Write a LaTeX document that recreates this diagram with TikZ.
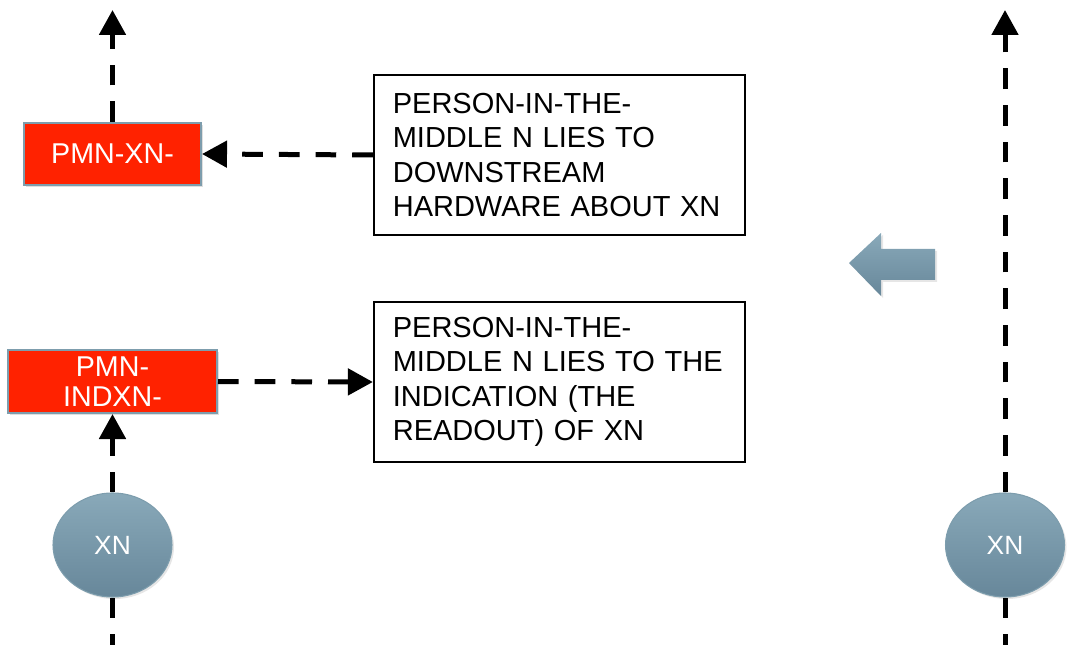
\documentclass[tikz,border=0pt]{standalone}
\usepackage{fontspec}
\setmainfont{Liberation Sans}
\usetikzlibrary{arrows.meta,shadows,shapes.geometric}

\definecolor{pmnred}{HTML}{FF2200}
\definecolor{pmnedge}{HTML}{7D9DAD}
\definecolor{nodetop}{HTML}{89A9B9}
\definecolor{nodebot}{HTML}{67879A}

\tikzset{
  px/.style={x=0.75pt,y=-0.75pt},
  flow/.style={line width=3.75pt, dash pattern=on 15.5pt off 12pt,
    -{Triangle[length=18.75pt,width=19.5pt]}},
  plain/.style={line width=3.75pt, dash pattern=on 15.5pt off 12pt},
  pmnbox/.style={rectangle, fill=pmnred, draw=pmnedge, line width=1.5pt,
    text=white, font=\fontsize{21.5pt}{22.5pt}\selectfont, align=center,
    inner sep=0pt, drop shadow={opacity=0.25,shadow xshift=1.5pt,shadow yshift=-1.5pt}},
  notebox/.style={rectangle, draw=black, line width=1.4pt, fill=white,
    minimum width=278.25pt, minimum height=120pt, text width=250pt,
    inner xsep=14.25pt, align=left,
    font=\fontsize{21.75pt}{25.9pt}\selectfont},
  xnode/.style={ellipse, draw=pmnedge, line width=0.8pt,
    top color=nodetop, bottom color=nodebot,
    minimum width=89.25pt, minimum height=78pt, inner sep=0pt,
    text=white, font=\fontsize{19.8pt}{22pt}\selectfont,
    drop shadow={opacity=0.2,shadow xshift=1.5pt,shadow yshift=-1.5pt}},
}

\begin{document}
\begin{tikzpicture}[px]
  \useasboundingbox (0,0) rectangle (1067,645);

  % left column
  \node[pmnbox, minimum width=132.75pt, minimum height=46.5pt] (pmnx) at (112.5,154) {PMN-XN-};
  \node[pmnbox, minimum width=156.75pt, minimum height=47.25pt] (pmnind) at (112.5,381.5) {PMN-\\INDXN-};
  \node[xnode] (xnl) at (112.5,545) {XN};
  \coordinate (topl) at (112.5,10);
  \coordinate (botl) at (112.5,645);

  % notes
  \node[notebox] (noteA) at (559.5,155)
    {PERSON-IN-THE-\\MIDDLE N LIES TO\\DOWNSTREAM\\HARDWARE ABOUT XN};
  \node[notebox] (noteB) at (559.5,382)
    {PERSON-IN-THE-\\MIDDLE N LIES TO THE\\INDICATION (THE\\READOUT) OF XN};

  % right column
  \node[xnode] (xnr) at (1005,545) {XN};
  \coordinate (topr) at (1005,10);
  \coordinate (botr) at (1005,645);

  % connectors
  \draw[flow] (pmnx.north) -- (topl);
  \draw[flow] (noteA.west) -- (pmnx.east);
  \draw[flow] (pmnind.east) -- (noteB.west);
  \draw[flow] (xnl.north) -- (pmnind.south);
  \draw[plain] (xnl.south) -- (botl);
  \draw[flow] (xnr.north) -- (topr);
  \draw[plain] (xnr.south) -- (botr);

  % block arrow pointing left
  \shade[top color=nodetop, bottom color=nodebot,
    drop shadow={opacity=0.2,shadow xshift=1.5pt,shadow yshift=-1.5pt}]
    (849,263) -- (881,233) -- (881,249) -- (935,249) -- (935,280)
    -- (881,280) -- (881,296) -- cycle;
\end{tikzpicture}
\end{document}
